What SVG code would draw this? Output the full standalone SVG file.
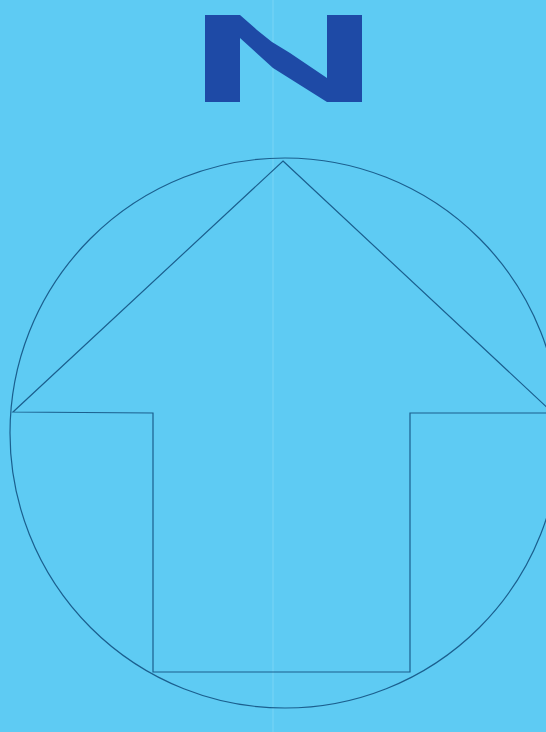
<svg xmlns="http://www.w3.org/2000/svg" width="546" height="732" viewBox="0 0 546 732">
<style>
.ln{fill:none;stroke:#1b5f8e;stroke-width:1.2;stroke-linejoin:miter}
</style>
<rect x="0" y="0" width="546" height="732" fill="#5ecbf3"/>
<line x1="273" y1="0" x2="273" y2="732" stroke="#7dd6f6" stroke-width="1.5" opacity="0.6"/>
<g id="letter-n">
<path d="M205,15 L240,15 L257,30 L272,42 L290,53 L327,78 L327,15 L362,15 L362,102 L327,102 L300,85 L273,68 L240,38 L240,102 L205,102 Z" fill="#1e4aa6"/>
</g>
<g id="circle">
<ellipse class="ln" cx="285" cy="433" rx="275" ry="275"/>
</g>
<g id="arrow">
<path class="ln" d="M283,161 L553,413 L410,413 L410,672 L153,672 L153,413 L13,412 Z"/>
</g>
</svg>
